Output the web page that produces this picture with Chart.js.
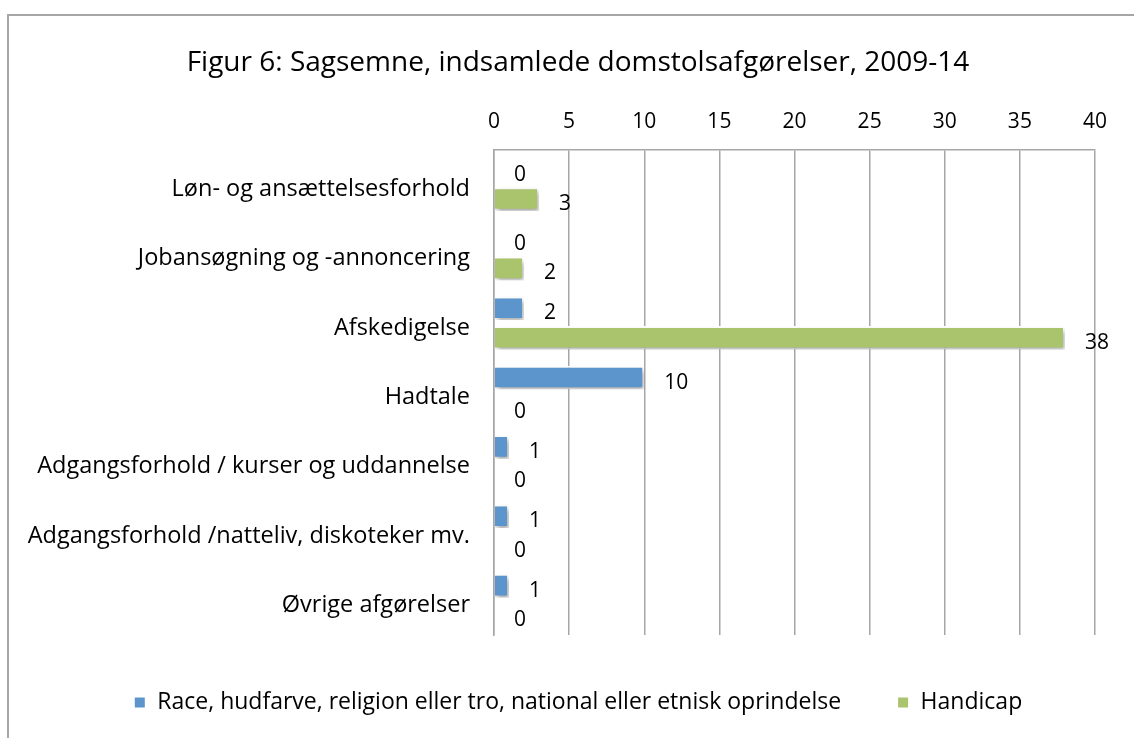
<!DOCTYPE html>
<html>
<head>
<meta charset="utf-8">
<script src="https://cdn.jsdelivr.net/npm/chart.js@4.4.1/dist/chart.umd.min.js"></script>
<style>
  html, body { margin: 0; padding: 0; background: #fff; }
  #wrap { width: 1134px; height: 738px; position: relative; }
</style>
</head>
<body>
<div id="wrap"><canvas id="sagChart" width="1134" height="738"></canvas></div>
<script>
const categories = [
    'Løn- og ansættelsesforhold',
    'Jobansøgning og -annoncering',
    'Afskedigelse',
    'Hadtale',
    'Adgangsforhold / kurser og uddannelse',
    'Adgangsforhold /natteliv, diskoteker mv.',
    'Øvrige afgørelser'
];
const raceValues = [0, 0, 2, 10, 1, 1, 1];
const handicapValues = [3, 2, 38, 0, 0, 0, 0];
const seriesNames = ['Race, hudfarve, religion eller tro, national eller etnisk oprindelse', 'Handicap'];
const xTicks = [0, 5, 10, 15, 20, 25, 30, 35, 40];

const FONT = '"Open Sans", Lato, sans-serif';

// outer frame + bar shadows + value labels
const framePlugin = {
    id: 'frame',
    afterLayout(chart) {
        // let the long category labels use the space left of the padding
        chart.scales.y.left = 0;
    },
    beforeDraw(chart) {
        const ctx = chart.ctx;
        ctx.save();
        ctx.strokeStyle = '#a6a6a6';
        ctx.lineWidth = 2;
        ctx.strokeRect(8, 15, 1300, 900);
        ctx.restore();
    },
    beforeDatasetsDraw(chart) {
        const ctx = chart.ctx;
        ctx.save();
        ctx.shadowColor = 'rgba(0,0,0,0.35)';
        ctx.shadowBlur = 5;
        ctx.shadowOffsetX = 2;
        ctx.shadowOffsetY = 3;
    },
    afterDatasetsDraw(chart) {
        const ctx = chart.ctx;
        ctx.restore();
        ctx.save();
        ctx.font = '21px ' + FONT;
        ctx.fillStyle = '#000';
        ctx.textAlign = 'left';
        ctx.textBaseline = 'middle';
        chart.data.datasets.forEach((ds, i) => {
            const meta = chart.getDatasetMeta(i);
            meta.data.forEach((bar, j) => {
                ctx.fillText(String(ds.data[j]), bar.x + 20, bar.y + 5);
            });
        });
        ctx.restore();
    }
};

const ctx = document.getElementById('sagChart').getContext('2d');
new Chart(ctx, {
    type: 'bar',
    data: {
        labels: categories,
        datasets: [{
            label: seriesNames[0],
            data: raceValues,
            backgroundColor: '#5b95cc',
            borderColor: '#ffffff',
            borderWidth: 2,
            borderSkipped: 'start'
        }, {
            label: seriesNames[1],
            data: handicapValues,
            backgroundColor: '#a9c46d',
            borderColor: '#ffffff',
            borderWidth: 2,
            borderSkipped: 'start'
        }]
    },
    options: {
        indexAxis: 'y',
        responsive: false,
        animation: false,
        maintainAspectRatio: false,
        layout: { padding: { left: 61, right: 39, top: 0, bottom: 14 } },
        categoryPercentage: 0.85,
        barPercentage: 0.8,
        plugins: {
            title: {
                display: true,
                text: 'Figur 6: Sagsemne, indsamlede domstolsafgørelser, 2009-14',
                color: '#000',
                font: { family: FONT, size: 28, weight: 'normal' },
                padding: { top: 46, bottom: 8 }
            },
            legend: {
                position: 'bottom',
                labels: {
                    color: '#000',
                    font: { family: FONT, size: 23 },
                    boxWidth: 12,
                    boxHeight: 12,
                    padding: 56
                }
            },
            tooltip: { enabled: false }
        },
        scales: {
            x: {
                position: 'top',
                min: 0,
                max: 40,
                afterBuildTicks: s => { s.ticks = xTicks.map(v => ({ value: v })); },
                afterFit: s => { s.height = 62; },
                ticks: { color: '#000', font: { family: FONT, size: 21 }, padding: 15 },
                grid: { color: '#a6a6a6', lineWidth: 1.5, drawTicks: false },
                border: { color: '#a6a6a6', width: 1.5 }
            },
            y: {
                afterFit: s => { s.width = 433; },
                ticks: { color: '#000', font: { family: FONT, size: 23.5 }, padding: 16, labelOffset: 5 },
                grid: { display: false },
                border: { color: '#a6a6a6', width: 1.5 }
            }
        }
    },
    plugins: [framePlugin]
});
</script>
</body>
</html>
